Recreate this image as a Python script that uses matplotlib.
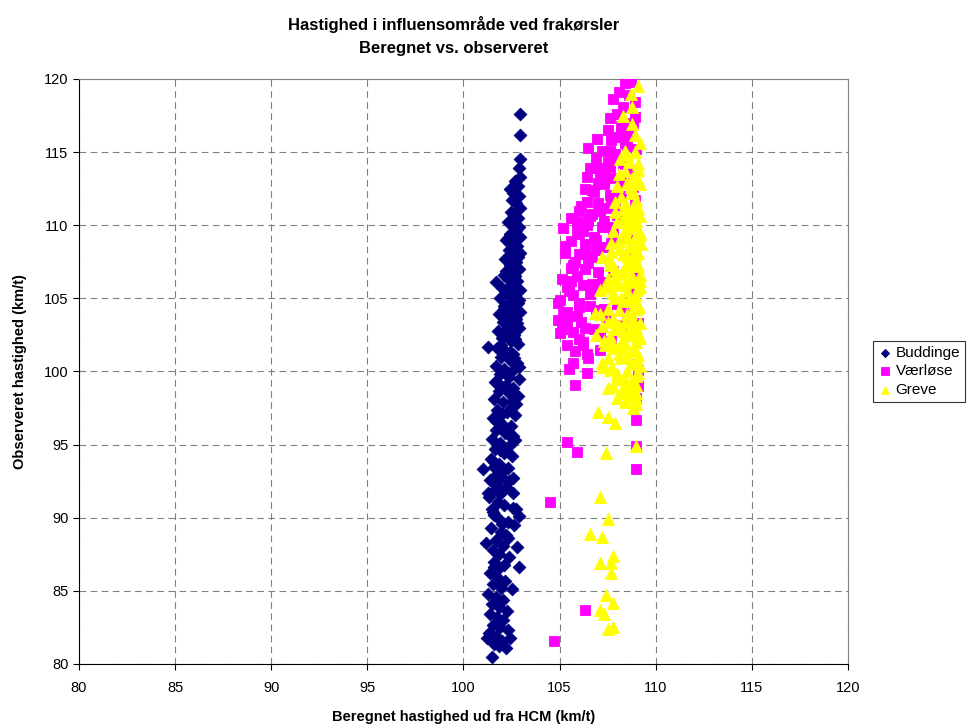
import matplotlib.pyplot as plt
from matplotlib.ticker import MultipleLocator

plt.rcParams['font.family'] = ['Liberation Sans', 'DejaVu Sans']

# Buddinge: beregnet / observeret hastighed (km/t)
buddinge_x = [102.95, 102.95, 102.95, 102.9, 102.95, 102.7, 102.85, 102.4, 102.6, 102.9,
              102.5, 102.75, 102.95, 102.45, 102.65, 102.85, 102.3, 102.55, 102.9, 102.7,
              102.4, 102.95, 102.2, 102.6, 102.8, 102.35, 102.95, 102.55, 102.15, 102.75,
              102.4, 102.9, 102.6, 102.1, 101.7, 102.3, 102.8, 102.5, 102.0, 102.95,
              102.25, 102.65, 101.9, 102.45, 102.85, 102.1, 102.6, 102.95, 101.85, 102.35,
              102.75, 102.05, 102.5, 102.9, 101.8, 102.2, 102.65, 102.0, 102.45, 102.85,
              101.27, 101.75, 102.15, 102.6, 101.95, 102.4, 102.8, 101.7, 102.1, 102.55,
              101.9, 102.35, 102.9, 101.65, 102.2, 102.6, 101.85, 102.4, 102.85, 101.6,
              102.05, 102.5, 101.75, 102.25, 102.7, 101.55, 101.95, 102.45, 101.7, 102.15,
              102.6, 101.5, 101.9, 102.35, 101.65, 102.1, 102.55, 101.45, 101.85, 101.01,
              101.6, 102.3, 101.75, 102.0, 101.4, 101.7, 102.2, 101.55, 101.9, 102.6,
              101.35, 101.8, 102.1, 102.75, 101.5, 101.27, 102.6, 102.9, 101.6, 101.85,
              102.3, 102.65, 101.45, 101.95, 102.2, 101.7, 101.17, 102.8, 102.05, 101.55,
              101.85, 102.35, 101.6, 102.1, 102.9, 101.6, 101.4, 101.8, 102.15, 101.55,
              101.95, 101.3, 101.7, 102.05, 101.5, 101.85, 102.25, 101.4, 101.75, 102.05,
              101.55, 101.9, 102.3, 101.35, 101.7, 101.2, 102.4, 102.0, 101.6, 101.85,
              102.2, 101.5,
              # tæt område midt i intervallet
              102.75, 102.3, 102.55, 102.85, 102.45, 102.2, 102.7, 102.35, 102.6, 102.9,
              102.1, 102.5, 102.8, 102.25, 102.7, 101.95, 102.4, 102.65, 102.9, 102.15,
              101.8, 102.3, 102.55, 102.75, 102.0, 101.7, 102.25, 102.45, 102.7, 101.9,
              101.6, 102.05, 102.35, 102.6, 101.8, 101.55, 102.0, 102.3, 101.75, 102.5]
buddinge_y = [117.6, 116.2, 114.5, 113.9, 113.3, 113.0, 112.7, 112.5, 112.2, 112.0,
              111.7, 111.5, 111.2, 110.9, 110.7, 110.5, 110.2, 110.0, 109.9, 109.6,
              109.4, 109.2, 109.0, 108.8, 108.6, 108.3, 108.1, 107.9, 107.7, 107.5,
              107.3, 107.0, 106.8, 106.6, 106.1, 106.3, 106.2, 105.9, 105.7, 105.6,
              105.4, 105.2, 105.0, 104.8, 104.7, 104.5, 104.3, 104.1, 103.9, 103.8,
              103.6, 103.4, 103.2, 103.0, 102.8, 102.6, 102.5, 102.3, 102.1, 101.9,
              101.7, 101.6, 101.4, 101.2, 101.0, 100.8, 100.6, 100.4, 100.2, 100.0,
              99.8, 99.6, 99.5, 99.3, 99.1, 98.9, 98.7, 98.5, 98.3, 98.1,
              97.9, 97.6, 97.4, 97.2, 97.0, 96.8, 96.5, 96.3, 96.0, 95.8,
              95.6, 95.4, 95.1, 94.9, 94.7, 94.4, 94.2, 94.0, 93.7, 93.3,
              93.5, 93.4, 93.0, 92.8, 92.6, 92.3, 92.1, 91.8, 91.6, 91.7,
              91.4, 91.1, 90.9, 90.6, 90.6, 91.7, 90.7, 90.1, 90.2, 89.9,
              89.7, 89.5, 89.3, 89.0, 88.8, 88.5, 88.3, 88.0, 88.1, 87.8,
              87.5, 87.3, 87.0, 86.8, 86.6, 86.6, 86.2, 85.9, 85.7, 85.5,
              85.2, 84.8, 84.6, 84.4, 84.1, 83.9, 83.6, 83.4, 83.2, 83.0,
              82.7, 82.5, 82.3, 82.1, 81.9, 81.8, 81.8, 81.6, 81.4, 81.2,
              81.1, 80.5,
              109.7, 109.1, 108.4, 107.8, 107.1, 106.9, 106.5, 105.8, 105.3, 104.9,
              104.3, 103.7, 103.3, 102.9, 102.2, 101.8, 101.3, 100.9, 100.3, 99.9,
              99.2, 98.6, 98.0, 97.8, 97.1, 96.6, 96.1, 95.5, 95.3, 94.6,
              93.8, 93.2, 92.5, 92.7, 91.9, 90.4, 89.6, 88.6, 86.4, 85.1]

# Værløse
vaerloese_x = [108.4, 108.7, 108.1, 108.6, 107.8, 108.9, 108.3, 107.6, 108.0, 108.9,
               107.5, 108.2, 108.7, 106.95, 107.7, 108.4, 109.0, 106.5, 107.2, 107.9,
               106.9, 107.5, 108.3, 108.8, 106.6, 107.1, 106.4, 107.8, 108.5, 107.3,
               106.3, 106.8, 107.6, 108.2, 108.9, 106.4, 107.0, 107.4, 106.0, 106.7,
               108.0, 108.6, 105.9, 105.2, 106.4, 107.2, 107.8, 106.0, 106.8, 105.6,
               106.3, 107.4, 105.3, 106.0, 106.7, 105.8, 105.6, 106.3, 107.0, 105.9,
               105.4, 106.2, 106.8, 105.7, 105.0, 106.0, 104.9, 106.6, 107.3, 105.4,
               105.9, 104.9, 105.4, 106.3, 105.0, 105.7, 106.0, 105.4, 106.2, 105.7,
               105.8, 109.0, 109.0, 109.0, 105.4, 105.9, 104.5, 106.3, 104.7,
               108.7, 109.0, 108.5, 109.1, 109.1, 108.8, 109.1, 109.0, 108.4, 108.0,
               107.6, 107.0, 106.6, 106.2, 107.9, 107.3, 106.9, 106.5, 105.6, 105.2,
               106.9, 106.1, 108.8, 109.0, 107.7, 106.7, 105.5, 105.1, 106.4, 107.1,
               105.6, 106.1, 106.7, 107.3, 107.9, 108.5, 105.3, 105.9, 106.5, 107.1,
               107.7, 108.3, 105.1, 105.7, 106.3, 106.9, 107.5, 108.1, 105.4, 106.0,
               106.6, 107.2, 107.8, 108.6, 106.2, 106.8, 107.4, 108.0, 108.7, 106.5,
               107.1, 107.7, 108.3, 107.0, 107.6, 108.2, 108.8, 105.8, 106.4, 105.5]
vaerloese_y = [119.7, 119.8, 119.1, 118.9, 118.6, 118.4, 118.1, 117.3, 117.6, 117.4,
               116.5, 116.8, 116.3, 115.9, 115.8, 115.6, 115.2, 115.3, 115.1, 114.9,
               114.6, 114.3, 114.2, 113.8, 113.9, 113.6, 113.3, 113.2, 113.0, 112.8,
               112.5, 112.3, 112.1, 112.0, 111.7, 111.6, 111.5, 111.2, 111.0, 110.8,
               110.7, 110.4, 110.2, 109.8, 110.0, 109.9, 109.5, 109.4, 109.2, 108.9,
               108.7, 108.5, 108.1, 108.0, 107.8, 107.5, 107.1, 107.0, 106.8, 106.5,
               105.8, 105.9, 105.6, 105.2, 104.9, 104.7, 104.7, 104.5, 104.3, 104.1,
               103.8, 103.5, 103.3, 103.0, 102.6, 102.7, 102.2, 101.8, 101.8, 100.6,
               99.1, 96.7, 94.9, 93.3, 95.2, 94.5, 91.1, 83.7, 81.6,
               108.0, 106.5, 104.0, 103.3, 100.1, 100.5, 99.0, 98.2, 116.9, 116.0,
               114.0, 112.9, 110.6, 109.6, 111.4, 110.3, 108.3, 107.4, 106.2, 103.9,
               104.2, 103.4, 112.6, 109.3, 108.8, 106.0, 105.5, 102.9, 101.2, 102.4,
               110.5, 111.3, 112.4, 113.4, 114.5, 115.4, 108.6, 109.6, 110.3, 111.0,
               111.8, 112.9, 106.3, 107.3, 108.2, 109.0, 109.9, 110.9, 103.7, 104.4,
               105.3, 106.1, 106.9, 107.6, 102.0, 102.9, 103.6, 104.6, 105.4, 100.9,
               101.5, 102.1, 103.2, 113.9, 115.1, 116.2, 117.0, 101.4, 99.9, 100.2]

# Greve
greve_x = [109.1, 108.75, 108.75, 109.2, 108.4, 108.9, 108.15, 108.6, 109.1, 108.4,
           108.9, 108.0, 108.5, 109.2, 108.7, 108.2, 109.0, 108.45, 108.8, 107.9,
           109.2, 108.3, 108.6, 109.0, 107.8, 108.4, 108.9, 108.1, 109.25, 108.6,
           107.7, 108.3, 108.9, 107.2, 107.6, 108.5, 109.1, 107.9, 108.2, 108.75,
           107.5, 109.2, 108.0, 107.6, 107.1, 108.5, 108.9, 107.85, 108.3, 109.0,
           106.85, 107.5, 108.1, 108.7, 107.8, 108.4, 109.2, 107.2, 108.0, 108.8,
           107.6, 108.3, 109.0, 107.36, 107.9, 108.6, 107.5, 108.2, 108.9, 107.26,
           107.8, 108.5, 109.1, 108.0, 108.7, 107.5, 108.3, 109.0, 108.0, 108.4,
           109.0, 107.0, 107.5, 107.9, 107.4, 109.0, 107.1, 106.6, 107.2, 107.5,
           107.1, 107.7, 107.8, 107.7, 107.4, 107.8, 107.1, 107.3, 107.5, 107.8,
           # tæt klynge ved 108.5-109.3
           108.8, 109.1, 108.6, 109.0, 108.7, 109.2, 108.5, 108.9, 109.1, 108.7,
           108.95, 108.55, 109.2, 108.8, 108.4, 109.05, 108.65, 108.9, 109.15, 108.5,
           108.8, 109.0, 108.6, 109.2, 108.35, 108.85, 109.1, 108.7, 108.2, 108.95,
           109.0, 108.6, 108.8, 109.2, 108.45, 108.1, 108.75, 109.05, 107.95, 108.55,
           107.9, 108.3, 108.7, 109.1, 108.0, 108.4, 108.8, 109.2, 107.7, 108.1,
           108.5, 108.9, 107.6, 108.0, 108.4, 108.8, 109.2, 107.4, 107.8, 108.2,
           108.6, 109.0, 107.1, 107.5, 107.9, 108.3, 108.7, 109.1, 106.9, 107.3,
           107.7, 108.1, 108.5, 108.9, 107.2, 107.6, 108.0, 108.4, 108.8, 107.8,
           108.2, 108.6, 109.0, 108.1, 108.5, 108.9, 108.3, 108.7]
greve_y = [119.5, 118.1, 116.9, 115.6, 115.1, 115.0, 114.5, 114.3, 114.2, 113.7,
           113.5, 112.7, 112.9, 112.8, 112.2, 111.9, 111.7, 111.4, 111.0, 110.9,
           110.6, 110.4, 110.1, 109.8, 109.6, 109.4, 109.2, 108.9, 108.7, 108.5,
           108.2, 108.0, 107.9, 107.8, 107.6, 107.4, 107.2, 107.0, 106.7, 106.5,
           106.3, 106.2, 105.9, 105.7, 105.6, 105.5, 105.2, 105.0, 104.8, 104.6,
           104.0, 104.3, 104.2, 104.0, 103.6, 103.4, 103.3, 103.1, 102.9, 102.7,
           102.4, 102.2, 102.0, 101.8, 101.6, 101.4, 100.9, 100.9, 100.7, 100.3,
           100.2, 100.0, 99.9, 99.5, 99.3, 98.9, 98.8, 98.5, 98.2, 97.9,
           98.2, 97.2, 96.9, 96.5, 94.4, 94.9, 91.4, 88.9, 88.7, 89.9,
           86.9, 86.9, 87.4, 86.2, 84.7, 84.2, 83.7, 83.4, 82.4, 82.5,
           112.3, 111.2, 110.8, 110.3, 109.9, 109.5, 109.1, 108.6, 108.1, 107.7,
           107.3, 106.9, 106.6, 106.1, 106.0, 105.6, 105.1, 104.7, 104.4, 103.9,
           103.5, 103.0, 102.6, 102.3, 101.9, 101.5, 101.1, 100.5, 101.7, 99.7,
           99.1, 98.7, 97.5, 100.4, 110.7, 103.2, 113.2, 113.0, 106.4, 102.5,
           111.6, 111.1, 112.6, 113.8, 110.2, 109.7, 110.5, 109.3, 108.8, 108.4,
           107.9, 108.2, 107.3, 106.8, 107.1, 106.3, 105.8, 105.9, 105.4, 105.0,
           104.9, 104.3, 103.9, 103.4, 103.0, 102.8, 103.1, 102.4, 102.5, 102.1,
           101.9, 101.2, 101.0, 100.6, 100.6, 100.1, 99.8, 99.4, 98.9, 99.0,
           98.5, 98.3, 97.8, 113.5, 114.8, 116.2, 117.5, 119.0]

fig = plt.figure(figsize=(9.75, 7.26), dpi=100)
ax = fig.add_axes([0.081, 0.0854, 0.7887, 0.8058])

ax.scatter(buddinge_x, buddinge_y, marker='D', s=42, color='#000080',
           edgecolors='#000080', linewidths=0.6, label='Buddinge', zorder=3)
ax.scatter(vaerloese_x, vaerloese_y, marker='s', s=62, color='#FF00FF',
           edgecolors='#FF00FF', linewidths=0.6, label='Værløse', zorder=4)
ax.scatter(greve_x, greve_y, marker='^', s=75, color='#FFFF00',
           edgecolors='#FFFF00', linewidths=0.6, label='Greve', zorder=5)

ax.set_xlim(80, 120)
ax.set_ylim(80, 120)
ax.xaxis.set_major_locator(MultipleLocator(5))
ax.yaxis.set_major_locator(MultipleLocator(5))
ax.grid(True, color='#808080', linestyle=(0, (6, 4)), linewidth=0.8)
ax.set_axisbelow(True)
ax.tick_params(direction='out', length=4, width=0.8, labelsize=10.5, colors='black')
ax.tick_params(axis='x', pad=8)

for side in ['top', 'right']:
    ax.spines[side].set_color('#808080')
for side in ['left', 'bottom']:
    ax.spines[side].set_color('black')

ax.set_xlabel('Beregnet hastighed ud fra HCM (km/t)', fontsize=10.5,
              fontweight='bold', labelpad=11)
ax.set_ylabel('Observeret hastighed (km/t)', fontsize=10.5,
              fontweight='bold', labelpad=12)

fig.text(0.465, 0.966, 'Hastighed i influensområde ved frakørsler', ha='center',
         va='center', fontsize=12, fontweight='bold')
fig.text(0.465, 0.933, 'Beregnet vs. observeret', ha='center', va='center',
         fontsize=12, fontweight='bold')

leg = ax.legend(loc='center left', bbox_to_anchor=(1.032, 0.5), frameon=True,
                fancybox=False, edgecolor='black', fontsize=11,
                handletextpad=0.25, handlelength=0.9, borderpad=0.35,
                labelspacing=0.3, markerscale=0.65, borderaxespad=0)
leg.get_frame().set_linewidth(0.8)

fig.savefig('out.png', dpi=100)
